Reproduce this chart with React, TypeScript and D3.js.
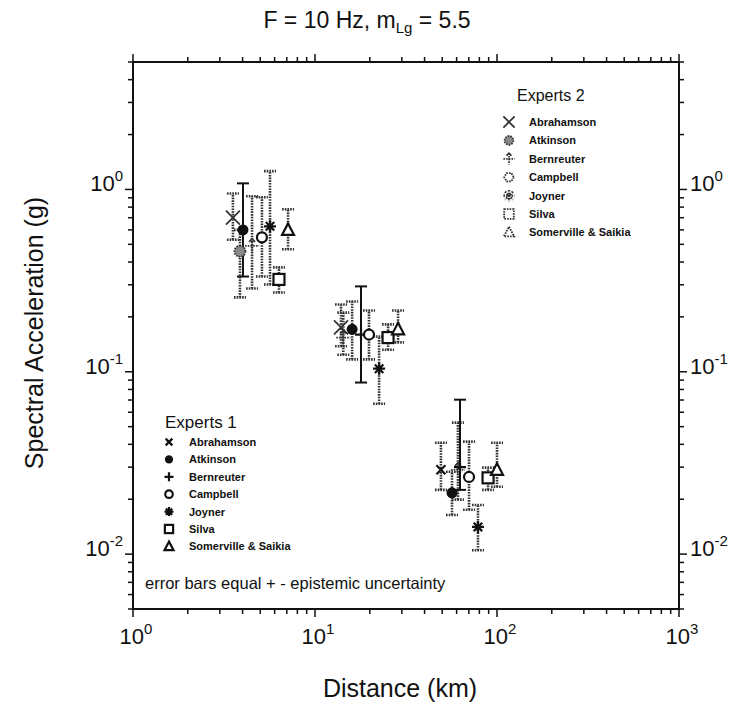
import React from "react";
import * as d3 from "d3";

// ---------- data ----------
const experts = ["Abrahamson", "Atkinson", "Bernreuter", "Campbell", "Joyner", "Silva", "Somerville & Saikia"];
const legendGroups = ["Experts 1", "Experts 2"];

// one entry per plotted estimate
const pointExpert = [0, 1, 1, 2, 3, 4, 5, 6, 0, 2, 1, 2, 3, 4, 5, 6, 0, 1, 2, 2, 3, 4, 5, 6];
const pointGroup = [2, 1, 2, 2, 1, 1, 1, 1, 2, 2, 1, 1, 1, 1, 1, 1, 1, 1, 2, 1, 1, 1, 1, 1];
const pointBarSolid = [0, 1, 0, 0, 0, 0, 0, 0, 0, 0, 0, 1, 0, 0, 0, 0, 0, 0, 0, 1, 0, 0, 0, 0];
const pointDistance = [3.54, 4.02, 3.87, 4.51, 5.11, 5.66, 6.34, 7.11, 13.9, 14.3, 16.0, 17.9, 19.8, 22.5, 25.2, 28.6, 49.2, 56.6, 61.0, 62.6, 70.2, 78.6, 89.3, 100];
const pointMedian = [0.7, 0.6, 0.458, 0.49, 0.546, 0.628, 0.321, 0.6, 0.175, 0.154, 0.171, 0.16, 0.16, 0.104, 0.154, 0.171, 0.029, 0.0217, 0.029, 0.03, 0.0265, 0.0141, 0.0262, 0.029];
const pointLow = [0.53, 0.333, 0.256, 0.286, 0.333, 0.301, 0.272, 0.47, 0.138, 0.124, 0.117, 0.0873, 0.117, 0.0668, 0.132, 0.145, 0.0225, 0.0164, 0.0199, 0.0225, 0.0175, 0.0105, 0.0225, 0.0234];
const pointHigh = [0.95, 1.08, 0.6, 0.918, 0.906, 1.26, 0.374, 0.778, 0.234, 0.211, 0.243, 0.294, 0.217, 0.156, 0.182, 0.217, 0.0408, 0.0283, 0.0526, 0.0703, 0.0414, 0.0186, 0.0298, 0.0408];

const xDomain = [1, 1000];
const yDomain = [0.005, 5];
const xMajor = [1, 10, 100, 1000];
const xMajorExp = ["0", "1", "2", "3"];
const yMajor = [0.01, 0.1, 1];
const yMajorExp = ["-2", "-1", "0"];

const FONT = "'Liberation Sans', Arial, Helvetica, sans-serif";

// ---------- layout ----------
const W = 739, H = 709;
const L = 133, R = 679, T = 62, B = 609;

const x = d3.scaleLog().domain(xDomain).range([L, R]);
const y = d3.scaleLog().domain(yDomain).range([B, T]);

function minorTicks(lo: number, hi: number) {
  const out: number[] = [];
  const e0 = Math.floor(Math.log10(lo));
  const e1 = Math.ceil(Math.log10(hi));
  for (let e = e0; e <= e1; e++) {
    for (let k = 1; k <= 9; k++) {
      const v = k * Math.pow(10, e);
      if (v >= lo * 0.999 && v <= hi * 1.001) out.push(v);
    }
  }
  return out;
}

const STIP = "1.6 1.1";

function Marker({ expert, group, s = 1 }: { expert: number; group: number; s?: number }) {
  const blk = "#111";
  if (group === 1) {
    switch (expert) {
      case 0:
        return <path d={`M${-4.5 * s},${-4.5 * s}L${4.5 * s},${4.5 * s}M${-4.5 * s},${4.5 * s}L${4.5 * s},${-4.5 * s}`} stroke={blk} strokeWidth={2.2} />;
      case 1:
        return <circle r={5.5 * s} fill={blk} />;
      case 2:
        return <path d={`M${-6 * s},0H${6 * s}M0,${-6 * s}V${6 * s}`} stroke={blk} strokeWidth={2.2} />;
      case 3:
        return <circle r={5 * s} fill="white" stroke={blk} strokeWidth={2.2} />;
      case 4: {
        const r = 6 * s;
        const d = [0, 45, 90, 135].map((a) => {
          const c = Math.cos((a * Math.PI) / 180) * r, sn = Math.sin((a * Math.PI) / 180) * r;
          return `M${-c},${-sn}L${c},${sn}`;
        }).join("");
        return <path d={d} stroke={blk} strokeWidth={2.2} />;
      }
      case 5:
        return <rect x={-5.5 * s} y={-5.5 * s} width={11 * s} height={11 * s} fill="white" stroke={blk} strokeWidth={2.2} />;
      default:
        return <path d={`M0,${-6.5 * s}L${6 * s},${5 * s}H${-6 * s}Z`} fill="white" stroke={blk} strokeWidth={2.2} />;
    }
  }
  const g = "#333";
  switch (expert) {
    case 0:
      return <path d={`M${-7 * s},${-7 * s}L${7 * s},${7 * s}M${-7 * s},${7 * s}L${7 * s},${-7 * s}`} stroke={g} strokeWidth={1.8} />;
    case 1:
      return <circle r={5.5 * s} fill="#888" stroke={g} strokeWidth={1.8} strokeDasharray={STIP} />;
    case 2:
      return (
        <g stroke={g} strokeWidth={1.8} fill="none" strokeDasharray={STIP}>
          <path d={`M${-7 * s},0H${7 * s}M0,${-7 * s}V${7 * s}`} />
          <path d={`M${-3 * s},${-4 * s}L0,${-7 * s}L${3 * s},${-4 * s}`} strokeDasharray="none" />
        </g>
      );
    case 3: {
      const r = 6 * s;
      const pts = d3.range(6).map((i) => [Math.cos((i * Math.PI) / 3) * r, Math.sin((i * Math.PI) / 3) * r]);
      return <path d={"M" + pts.map((p) => p.join(",")).join("L") + "Z"} fill="white" stroke={g} strokeWidth={1.8} strokeDasharray={STIP} />;
    }
    case 4: {
      const r = 7 * s;
      const d = [0, 45, 90, 135].map((a) => {
        const c = Math.cos((a * Math.PI) / 180) * r, sn = Math.sin((a * Math.PI) / 180) * r;
        return `M${-c},${-sn}L${c},${sn}`;
      }).join("");
      return <path d={d} stroke={g} strokeWidth={2.4} strokeDasharray={STIP} />;
    }
    case 5:
      return <rect x={-6 * s} y={-6 * s} width={12 * s} height={12 * s} fill="white" stroke={g} strokeWidth={1.8} strokeDasharray={STIP} />;
    default:
      return <path d={`M0,${-7 * s}L${6.5 * s},${5 * s}H${-6.5 * s}Z`} fill="white" stroke={g} strokeWidth={1.8} strokeDasharray={STIP} />;
  }
}

function Pow({ exp, x0, y0, anchor }: { exp: string; x0: number; y0: number; anchor: string }) {
  return (
    <text x={x0} y={y0} textAnchor={anchor} fontFamily={FONT} fontSize={22} fill="#111">
      10<tspan dy={-10} fontSize={15}>{exp}</tspan>
    </text>
  );
}

export default function App() {
  const xMinor = minorTicks(xDomain[0], xDomain[1]);
  const yMinor = minorTicks(yDomain[0], yDomain[1]);
  const isMajor = (v: number) => Math.abs(Math.log10(v) - Math.round(Math.log10(v))) < 1e-6;
  const tick = (v: number) => (isMajor(v) ? 8 : 5);

  const idx = d3.range(pointDistance.length);
  const cap = 6;

  return (
    <svg width={W} height={H} style={{ position: "absolute", left: 0, top: 0, background: "white" }}>
      <rect width={W} height={H} fill="white" />
      {/* title */}
      <text x={367} y={28} textAnchor="middle" fontFamily={FONT} fontSize={23} fill="#111">
        F = 10 Hz, m<tspan dy={5} fontSize={15}>Lg</tspan><tspan dy={-5}> = 5.5</tspan>
      </text>

      {/* frame */}
      <rect x={L} y={T} width={R - L} height={B - T} fill="none" stroke="#111" strokeWidth={2} />

      {/* x ticks */}
      {xMinor.map((v, i) => (
        <g key={"xt" + i} stroke="#111" strokeWidth={1.5}>
          <line x1={x(v)} x2={x(v)} y1={B} y2={B + tick(v)} />
          <line x1={x(v)} x2={x(v)} y1={T} y2={T - tick(v)} />
        </g>
      ))}
      {/* y ticks */}
      {yMinor.map((v, i) => (
        <g key={"yt" + i} stroke="#111" strokeWidth={1.5}>
          <line x1={L} x2={L - tick(v)} y1={y(v)} y2={y(v)} />
          <line x1={R} x2={R + tick(v)} y1={y(v)} y2={y(v)} />
        </g>
      ))}

      {/* tick labels */}
      {xMajor.map((v, i) => (
        <Pow key={"xl" + i} exp={xMajorExp[i]} x0={x(v) + 3} y0={B + 35} anchor="middle" />
      ))}
      {yMajor.map((v, i) => (
        <g key={"yl" + i}>
          <Pow exp={yMajorExp[i]} x0={L - 10} y0={y(v) + 2} anchor="end" />
          <Pow exp={yMajorExp[i]} x0={R + 11} y0={y(v) + 2} anchor="start" />
        </g>
      ))}

      {/* axis titles */}
      <text x={400} y={697} textAnchor="middle" fontFamily={FONT} fontSize={25} fill="#111">Distance (km)</text>
      <text transform={`translate(43,333) rotate(-90)`} textAnchor="middle" fontFamily={FONT} fontSize={25} fill="#111">
        Spectral Acceleration (g)
      </text>

      {/* error bars */}
      {idx.map((i) => {
        const px = x(pointDistance[i]);
        const solid = pointBarSolid[i] === 1;
        const st = solid
          ? { stroke: "#111", strokeWidth: 2 }
          : { stroke: "#333", strokeWidth: 2.6, strokeDasharray: STIP };
        return (
          <g key={"eb" + i} {...st} fill="none">
            <line x1={px} x2={px} y1={y(pointLow[i])} y2={y(pointHigh[i])} />
            <line x1={px - cap} x2={px + cap} y1={y(pointLow[i])} y2={y(pointLow[i])} />
            <line x1={px - cap} x2={px + cap} y1={y(pointHigh[i])} y2={y(pointHigh[i])} />
          </g>
        );
      })}
      {/* markers */}
      {idx.map((i) => (
        <g key={"mk" + i} transform={`translate(${x(pointDistance[i])},${y(pointMedian[i])})`}>
          <Marker expert={pointExpert[i]} group={pointGroup[i]} />
        </g>
      ))}

      {/* legend Experts 2 */}
      <text x={517} y={101} fontFamily={FONT} fontSize={16} fill="#111">{legendGroups[1]}</text>
      {experts.map((e, i) => (
        <g key={"l2" + i}>
          <g transform={`translate(509,${122 + i * 18.4})`}>
            <Marker expert={i} group={2} s={0.8} />
          </g>
          <text x={529} y={126 + i * 18.4} fontFamily={FONT} fontSize={11} fontWeight="bold" fill="#111">{e}</text>
        </g>
      ))}

      {/* legend Experts 1 */}
      <text x={165} y={428} fontFamily={FONT} fontSize={17} fill="#111">{legendGroups[0]}</text>
      {experts.map((e, i) => (
        <g key={"l1" + i}>
          <g transform={`translate(169,${442 + i * 17.4})`}>
            <Marker expert={i} group={1} s={0.75} />
          </g>
          <text x={189} y={446 + i * 17.4} fontFamily={FONT} fontSize={11} fontWeight="bold" fill="#111">{e}</text>
        </g>
      ))}

      <text x={145} y={589} fontFamily={FONT} fontSize={16.5} fill="#111">error bars equal + - epistemic uncertainty</text>
    </svg>
  );
}
